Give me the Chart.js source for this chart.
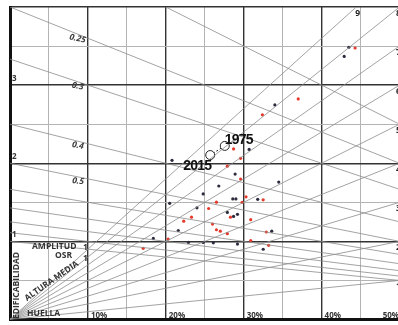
<!DOCTYPE html>
<html>
<head>
<meta charset="utf-8">
<script src="https://cdn.jsdelivr.net/npm/chart.js@4.4.1/dist/chart.umd.min.js"></script>
<style>
  html, body { margin: 0; padding: 0; background: #fff; overflow: hidden; width: 398px; height: 325px; }
  canvas { display: block; }
</style>
</head>
<body>
<canvas id="chart" width="405" height="325"></canvas>
<script>
// guide lines: OSR (descending) and average height L (radial from origin)
const osrLines = [0.2, 0.25, 0.3, 0.4, 0.5, 0.6, 0.7, 0.8, 0.9, 1];
const osrLabels = [0.25, 0.3, 0.4, 0.5];
const heightLines = [1, 2, 3, 4, 5, 6, 7, 8, 9];

const xTickValues = [0.1, 0.2, 0.3, 0.4, 0.5];
const xTickLabels = ["10%", "20%", "30%", "40%", "50%"];
const yTickValues = [1, 2, 3];
const yTickLabels = ["1", "2", "3"];

// dark points (HUELLA, EDIFICABILIDAD)
const darkX = [0.435, 0.429, 0.340, 0.307, 0.208, 0.289, 0.345, 0.268, 0.248, 0.286, 0.290, 0.318,
  0.205, 0.240, 0.279, 0.292, 0.287, 0.216, 0.336, 0.184, 0.229, 0.248, 0.261, 0.292, 0.325];
const darkY = [3.485, 3.367, 2.747, 2.177, 2.038, 1.861, 1.759, 1.709, 1.608, 1.544, 1.544, 1.538,
  1.487, 1.430, 1.371, 1.346, 1.320, 1.139, 1.130, 1.038, 0.987, 0.987, 0.981, 0.966, 0.899];

// red points
const redX = [0.443, 0.370, 0.324, 0.287, 0.296, 0.279, 0.296, 0.303, 0.298, 0.325, 0.265, 0.255,
  0.283, 0.309, 0.260, 0.265, 0.270, 0.279, 0.329, 0.223, 0.233, 0.203, 0.171, 0.309, 0.332];
const redY = [3.475, 2.823, 2.620, 2.184, 2.063, 1.962, 1.797, 1.570, 1.500, 1.532, 1.502, 1.421,
  1.310, 1.278, 1.222, 1.149, 1.130, 1.099, 1.120, 1.259, 1.310, 1.029, 0.911, 1.010, 0.949];

const years = ["1975", "2015"];
const yearX = [0.2757, 0.2570];
const yearY = [2.222, 2.105];

const toPoints = (xs, ys) => xs.map((x, i) => ({ x, y: ys[i] }));

const guide = data => ({
  data,
  showLine: true,
  borderColor: "#8c8c8c",
  borderWidth: 0.8,
  pointRadius: 0,
  pointHoverRadius: 0
});

const textPlugin = {
  id: "texts",
  afterDatasetsDraw(chart) {
    const { ctx, scales: { x, y } } = chart;
    ctx.save();
    ctx.fillStyle = "#333";
    ctx.textAlign = "left";
    ctx.textBaseline = "alphabetic";

    // x tick labels, inside the plot
    ctx.font = "bold 8px 'Open Sans'";
    xTickValues.forEach((v, i) => {
      const px = x.getPixelForValue(v);
      if (i === xTickValues.length - 1) {
        ctx.textAlign = "right";
        ctx.fillText(xTickLabels[i], 399, 318);
        ctx.textAlign = "left";
      } else {
        ctx.fillText(xTickLabels[i], px + 3, 318);
      }
    });

    // y tick labels
    yTickValues.forEach((v, i) => {
      ctx.fillText(yTickLabels[i], 12, y.getPixelForValue(v) - 4);
    });

    // OSR labels along their lines
    ctx.font = "italic bold 8.5px 'Open Sans'";
    ctx.fillStyle = "#3a3a3a";
    osrLabels.forEach(o => {
      const lx = 0.088;
      const px = x.getPixelForValue(lx);
      const py = y.getPixelForValue((1 - lx) / o);
      const slope = (y.getPixelForValue(0) - y.getPixelForValue(1 / o)) / (x.getPixelForValue(1) - x.getPixelForValue(0));
      ctx.save();
      ctx.translate(px, py);
      ctx.rotate(Math.atan(slope) * 0.6);
      ctx.textAlign = "center";
      ctx.textBaseline = "top";
      ctx.fillText(String(o), 0, 0);
      ctx.restore();
    });

    // height labels
    ctx.font = "bold 8.5px 'Open Sans'";
    ctx.fillStyle = "#222";
    heightLines.forEach(L => {
      if (L === 9) {
        ctx.fillText("9", x.getPixelForValue(4 / L) - 1, y.getPixelForValue(4) + 9);
      } else {
        ctx.fillText(String(L), 396, y.getPixelForValue(L * 0.5) + 9);
      }
    });

    // axis names in the lower-left corner
    ctx.fillStyle = "#333";
    ctx.font = "bold 8.5px 'Open Sans'";
    ctx.fillText("AMPLITUD", 32, 248.5);
    ctx.fillText("1", 83, 250);
    ctx.fillText("OSR", 55, 258);
    ctx.fillText("1", 83, 261);
    ctx.fillText("HUELLA", 27, 316);

    ctx.save();
    ctx.translate(18.5, 285.5);
    ctx.rotate(-Math.PI / 2);
    ctx.textAlign = "center";
    ctx.fillText("EDIFICABILIDAD", 0, 0);
    ctx.restore();

    ctx.save();
    ctx.translate(53, 283);
    ctx.rotate(-0.61);
    ctx.textAlign = "center";
    ctx.fillText("ALTURA MEDIA", 0, 0);
    ctx.restore();

    // years
    ctx.fillStyle = "#111";
    ctx.font = "bold 14px 'Liberation Sans'";
    ctx.letterSpacing = "-0.8px";
    const p0 = { x: x.getPixelForValue(yearX[0]), y: y.getPixelForValue(yearY[0]) };
    const p1 = { x: x.getPixelForValue(yearX[1]), y: y.getPixelForValue(yearY[1]) };
    ctx.textAlign = "left";
    ctx.fillText(years[0], p0.x, p0.y - 2);
    ctx.textAlign = "right";
    ctx.fillText(years[1], p1.x + 1, p1.y + 15);
    ctx.restore();
  }
};

new Chart("chart", {
  type: "scatter",
  data: {
    datasets: [
      ...osrLines.map(o => guide([{ x: 0, y: 1 / o }, { x: 1, y: 0 }])),
      ...heightLines.map(L => guide([{ x: 0, y: 0 }, { x: 1, y: L }])),
      {
        data: toPoints(darkX, darkY),
        backgroundColor: "#2c2c3e",
        borderWidth: 0,
        pointRadius: 1.6
      },
      {
        data: toPoints(redX, redY),
        backgroundColor: "#e53a2b",
        borderWidth: 0,
        pointRadius: 1.6
      },
      {
        data: toPoints(yearX, yearY),
        showLine: true,
        borderColor: "#222",
        borderWidth: 1,
        borderDash: [2, 2],
        pointRadius: 4.5,
        pointBackgroundColor: "#fff",
        pointBorderColor: "#222",
        pointBorderWidth: 1
      }
    ]
  },
  options: {
    responsive: false,
    animation: false,
    layout: { padding: { left: 10, top: 7, right: 2, bottom: 2 } },
    plugins: { legend: { display: false }, tooltip: { enabled: false } },
    scales: {
      x: {
        type: "linear",
        min: 0,
        max: 0.5,
        ticks: { display: false, stepSize: 0.05 },
        grid: {
          drawTicks: false,
          color: c => (Math.round(c.tick.value * 100) % 10 === 0 ? "#333" : "#b4b4b4"),
          lineWidth: c => (Math.round(c.tick.value * 100) % 10 === 0 ? 1.4 : 1)
        },
        border: { color: "#111", width: 3 }
      },
      y: {
        type: "linear",
        min: 0,
        max: 4,
        ticks: { display: false, stepSize: 0.5 },
        grid: {
          drawTicks: false,
          color: c => (Number.isInteger(c.tick.value) ? "#333" : "#b4b4b4"),
          lineWidth: c => (Number.isInteger(c.tick.value) ? 1.4 : 1)
        },
        border: { color: "#111", width: 3 }
      }
    }
  },
  plugins: [textPlugin]
});
</script>
</body>
</html>
